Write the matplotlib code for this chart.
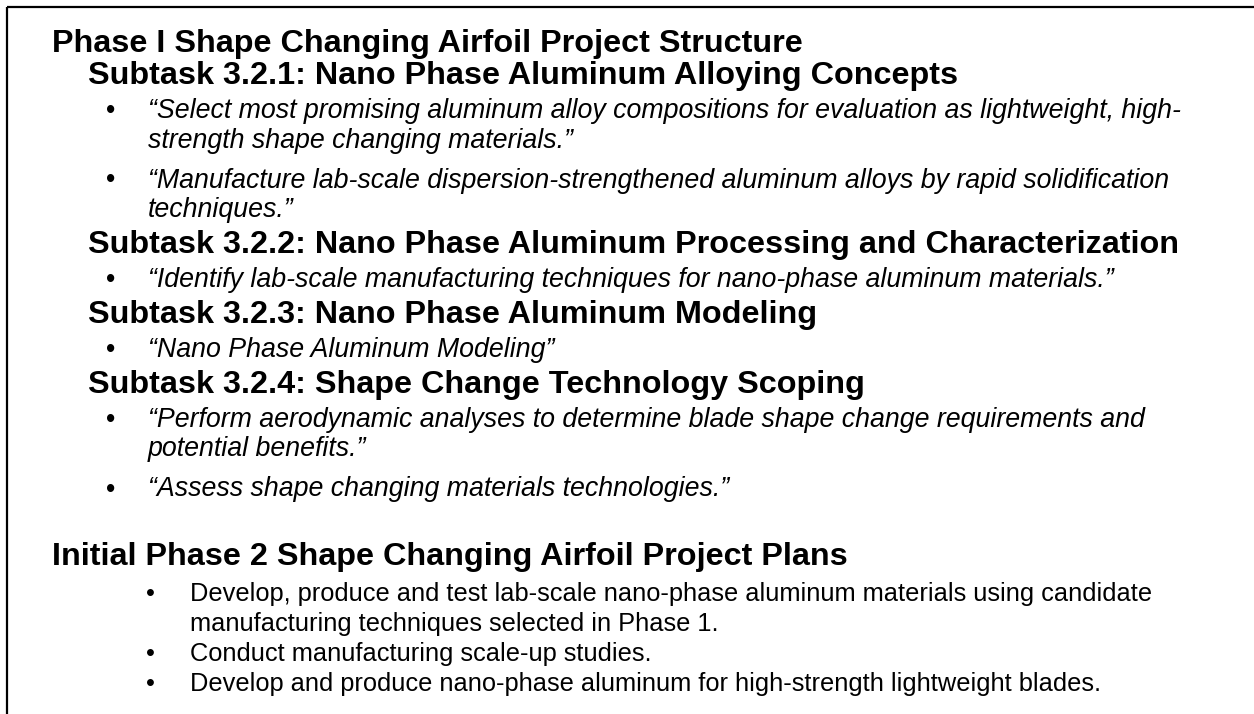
import matplotlib
matplotlib.use("Agg")
import matplotlib.pyplot as plt

# Text content of the slide
phase1_title = "Phase I Shape Changing Airfoil Project Structure"
subtask_titles = [
    "Subtask 3.2.1: Nano Phase Aluminum Alloying Concepts",
    "Subtask 3.2.2: Nano Phase Aluminum Processing and Characterization",
    "Subtask 3.2.3: Nano Phase Aluminum Modeling",
    "Subtask 3.2.4: Shape Change Technology Scoping",
]
# each bullet is a list of its wrapped lines
subtask_bullets = [
    [["\u201cSelect most promising aluminum alloy compositions for evaluation as lightweight, high-",
      "strength shape changing materials.\u201d"],
     ["\u201cManufacture lab-scale dispersion-strengthened aluminum alloys by rapid solidification",
      "techniques.\u201d"]],
    [["\u201cIdentify lab-scale manufacturing techniques for nano-phase aluminum materials.\u201d"]],
    [["\u201cNano Phase Aluminum Modeling\u201d"]],
    [["\u201cPerform aerodynamic analyses to determine blade shape change requirements and",
      "potential benefits.\u201d"],
     ["\u201cAssess shape changing materials technologies.\u201d"]],
]
phase2_title = "Initial Phase 2 Shape Changing Airfoil Project Plans"
phase2_bullets = [
    ["Develop, produce and test lab-scale nano-phase aluminum materials using candidate",
     "manufacturing techniques selected in Phase 1."],
    ["Conduct manufacturing scale-up studies."],
    ["Develop and produce nano-phase aluminum for high-strength lightweight blades."],
]

W, H = 1254, 714
fig = plt.figure(figsize=(W / 100, H / 100), dpi=100)
ax = fig.add_axes([0, 0, 1, 1])
ax.set_xlim(0, W)
ax.set_ylim(H, 0)
ax.axis("off")

font = "Liberation Sans"
head_size = 23.3
body_size = 19.25   # italic quotes
plan_size = 18.3    # phase 2 plain bullets

# frame (top and left edges only)
ax.plot([7, W], [7, 7], color="black", lw=1.6, solid_capstyle="butt")
ax.plot([7, 7], [7, H], color="black", lw=1.6, solid_capstyle="butt")


def heading(x, y, s):
    ax.text(x, y, s, fontsize=head_size, fontweight="bold", family=font,
            va="baseline", ha="left")


def bullet(xb, xt, y, lines, style, size):
    ax.text(xb, y, "\u2022", fontsize=size, family=font, va="baseline", ha="center")
    for i, ln in enumerate(lines):
        ax.text(xt, y + i * 29.5, ln, fontsize=size, family=font, style=style,
                va="baseline", ha="left")
    return y + (len(lines) - 1) * 29.5


y = 52
heading(52, y, phase1_title)
for title, bullets in zip(subtask_titles, subtask_bullets):
    y += 32 if y == 52 else 36
    heading(88, y, title)
    y += 34
    for j, b in enumerate(bullets):
        if j > 0:
            y += 40
        y = bullet(111, 148, y, b, "italic", body_size)

y += 69
heading(52, y, phase2_title)
y += 36
for j, b in enumerate(phase2_bullets):
    if j > 0:
        y += 30
    y = bullet(150, 190, y, b, "normal", plan_size)

fig.savefig("out.png", dpi=100)
